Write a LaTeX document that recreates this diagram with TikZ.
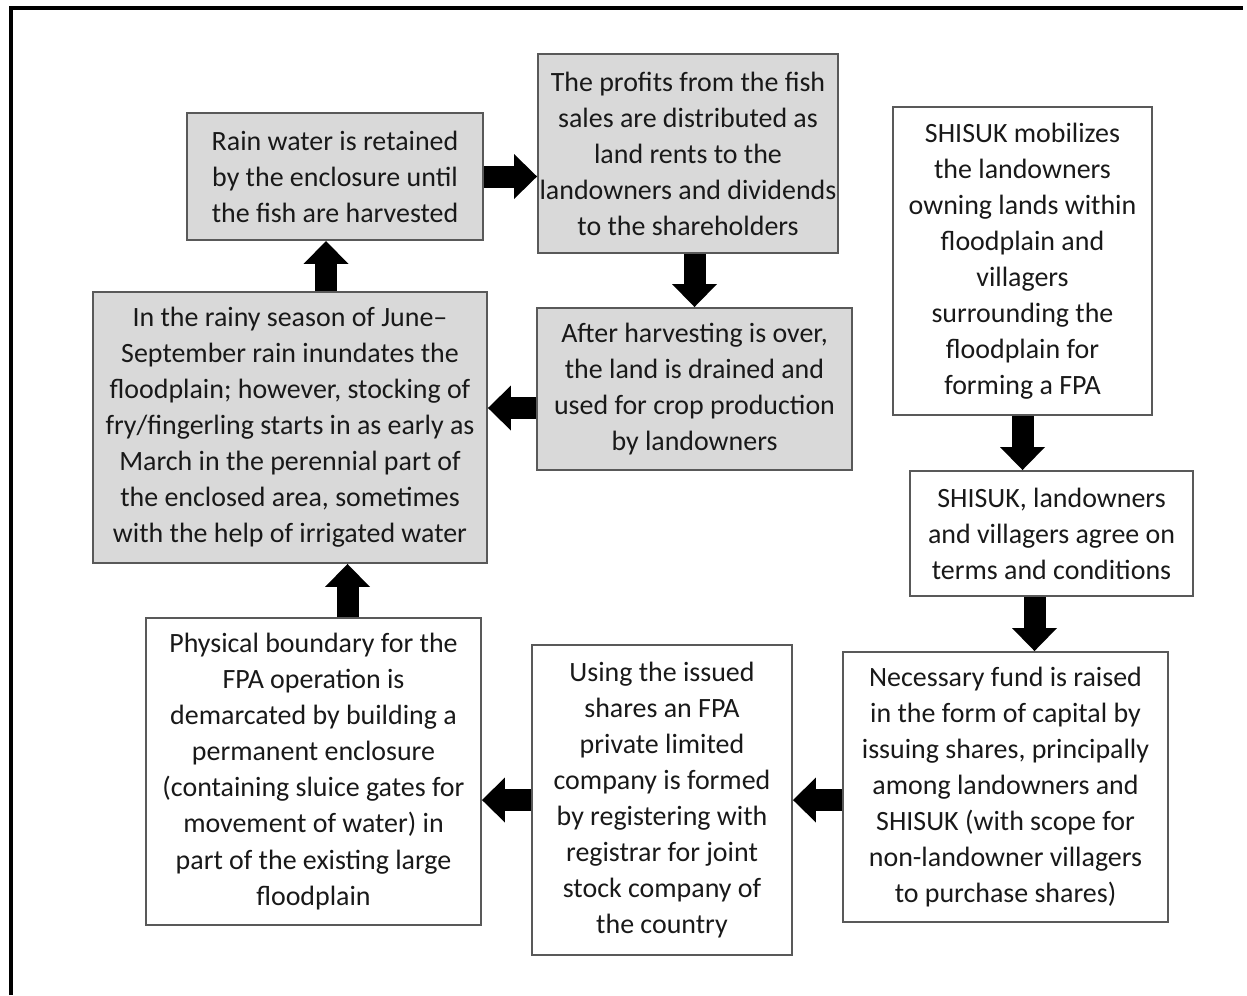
\documentclass[tikz,border=0pt]{standalone}
\usepackage{fontspec}
\setmainfont{Carlito}
\usetikzlibrary{arrows.meta,calc}

\tikzset{
	flowbox/.style={draw=black!65,line width=0.04cm,rectangle,align=center,inner sep=0pt,text=black!90,font=\fontsize{15.9}{20.5}\selectfont},
	graybox/.style={flowbox,fill=black!15},
	whitebox/.style={flowbox,fill=white},
	blockarrow/.style={line width=0.44cm,-{Triangle[width=0.9cm,length=0.46cm,line width=0pt]}}
}

\begin{document}
\begin{tikzpicture}[x=0.02cm,y=-0.02cm]

	\useasboundingbox (0,0) rectangle (1247,995);
	\draw[line width=0.08cm] (11,995) -- (11,8) -- (1243,8);

	\begin{scope}[every node/.style={graybox}]
		\node[minimum width=5.92cm,minimum height=2.54cm] (rain_ret) at (335,176.5) {Rain water is retained\\by the enclosure until\\the fish are harvested};
		\node[minimum width=6.00cm,minimum height=3.98cm] (profit_dist) at (688,153.5) {The profits from the fish\\sales are distributed as\\land rents to the\\landowners and dividends\\to the shareholders};
		\node[minimum width=7.88cm,minimum height=5.42cm] (rainy_season) at (290,427.5) {In the rainy season of June--\\September rain inundates the\\floodplain; however, stocking of\\fry/fingerling starts in as early as\\March in the perennial part of\\the enclosed area, sometimes\\with the help of irrigated water};
		\node[minimum width=6.30cm,minimum height=3.24cm] (after_harv) at (694.5,389) {After harvesting is over,\\the land is drained and\\used for crop production\\by landowners};
	\end{scope}

	\begin{scope}[every node/.style={whitebox}]
		\node[minimum width=5.18cm,minimum height=6.16cm] (shisuk_mob) at (1022.5,261) {SHISUK mobilizes\\the landowners\\owning lands within\\floodplain and\\villagers\\surrounding the\\floodplain for\\forming a FPA};
		\node[minimum width=5.66cm,minimum height=2.50cm] (shisuk_agree) at (1051.5,533.5) {SHISUK, landowners\\and villagers agree on\\terms and conditions};
		\node[minimum width=6.50cm,minimum height=5.40cm] (fund_raise) at (1005.5,787) {Necessary fund is raised\\in the form of capital by\\issuing shares, principally\\among landowners and\\SHISUK (with scope for\\non-landowner villagers\\to purchase shares)};
		\node[minimum width=5.20cm,minimum height=6.20cm] (fpa_company) at (662,800) {Using the issued\\shares an FPA\\private limited\\company is formed\\by registering with\\registrar for joint\\stock company of\\the country};
		\node[minimum width=6.70cm,minimum height=6.14cm] (phys_bound) at (313.5,771.5) {Physical boundary for the\\FPA operation is\\demarcated by building a\\permanent enclosure\\(containing sluice gates for\\movement of water) in\\part of the existing large\\floodplain};
	\end{scope}

	\coordinate (harv_out) at ($(after_harv.west)+(0,19)$);
	\coordinate (season_out) at ($(rain_ret.south)+(-9,0)$);
	\coordinate (bound_out) at ($(phys_bound.north)+(34,0)$);
	\coordinate (agree_out) at ($(shisuk_agree.south)+(-17,0)$);

	\draw[blockarrow] (rain_ret.east) -- (rain_ret.east -| profit_dist.west);
	\draw[blockarrow] (after_harv.north |- profit_dist.south) -- (after_harv.north);
	\draw[blockarrow] (harv_out) -- (harv_out -| rainy_season.east);
	\draw[blockarrow] (season_out |- rainy_season.north) -- (season_out);
	\draw[blockarrow] (bound_out) -- (bound_out |- rainy_season.south);
	\draw[blockarrow] (shisuk_mob.south) -- (shisuk_mob.south |- shisuk_agree.north);
	\draw[blockarrow] (agree_out) -- (agree_out |- fund_raise.north);
	\draw[blockarrow] (fund_raise.west |- fpa_company) -- (fpa_company.east);
	\draw[blockarrow] (fpa_company.west) -- (fpa_company.west -| phys_bound.east);

\end{tikzpicture}
\end{document}
